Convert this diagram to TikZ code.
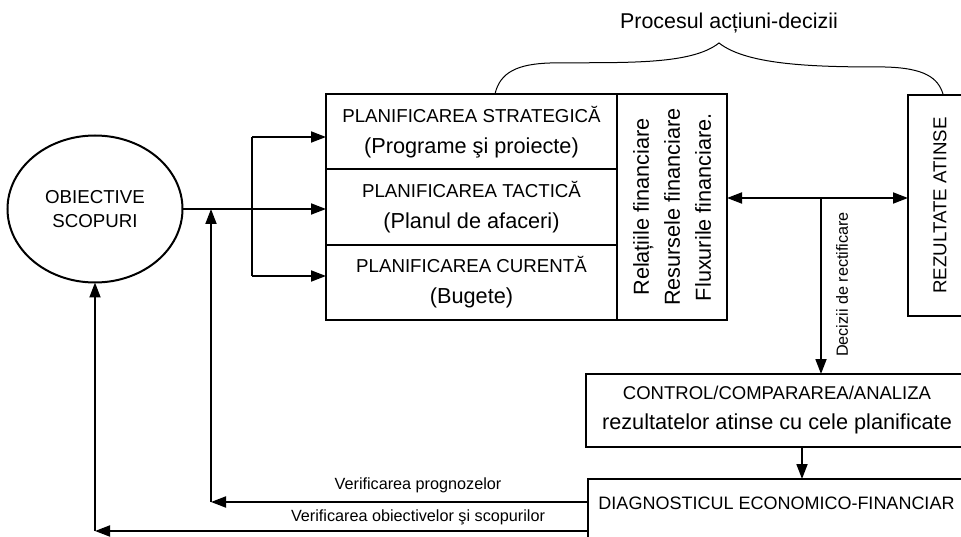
\documentclass[tikz,border=0pt]{standalone}
\usepackage{fontspec}
\setmainfont{Liberation Sans}
\usetikzlibrary{arrows.meta,shapes.geometric}
\begin{document}
\begin{tikzpicture}[x=1pt,y=-1pt,
  box/.style={draw, line width=2pt, rectangle, inner sep=0pt, outer sep=0pt},
  conn/.style={line width=1.8pt},
  arr/.style={conn, -{Triangle[length=15pt,width=11pt]}},
  arrs/.style={conn, {Triangle[length=15pt,width=11pt]}-{Triangle[length=15pt,width=11pt]}},
  caps/.style={font=\fontsize{18.7}{24}\selectfont},
  plan/.style={box, minimum width=291pt, minimum height=75.5pt, align=center, font=\fontsize{21.7}{31}\selectfont},
  small/.style={font=\fontsize{16.2}{20}\selectfont},
  bracestyle/.style={line width=1pt},
]
\clip (0,0) rectangle (961,537);
\fill[white] (0,0) rectangle (961,537);

% nodes
\node[box, ellipse, minimum width=175pt, minimum height=147pt, align=center, caps] (obj) at (95,209) {OBIECTIVE\\SCOPURI};
\node[plan] (strat) at (471.5,131.75) {{\fontsize{18.7}{31}\selectfont PLANIFICAREA STRATEGICĂ}\\(Programe şi proiecte)};
\node[plan] (tact) at (471.5,207.25) {{\fontsize{18.7}{31}\selectfont PLANIFICAREA TACTICĂ}\\(Planul de afaceri)};
\node[plan] (cur) at (471.5,282.5) {{\fontsize{18.7}{31}\selectfont PLANIFICAREA CURENTĂ}\\(Bugete)};
\node[box, rotate=90, minimum width=226pt, minimum height=110pt, align=center, font=\fontsize{21.7}{31}\selectfont] (fin) at (672,207) {Relațiile financiare\\Resursele financiare\\Fluxurile financiare.};
\node[box, rotate=90, minimum width=221pt, minimum height=64pt, caps] (rez) at (940,205.5) {REZULTATE ATINSE};
\node[box, minimum width=382pt, minimum height=73pt, align=center, font=\fontsize{21.7}{30}\selectfont] (ctrl) at (777,410.5) {{\fontsize{18.5}{30}\selectfont CONTROL/COMPARAREA/ANALIZA}\\rezultatelor atinse cu cele planificate};
\node[box, anchor=north west, minimum width=377pt, inner ysep=17.5pt, text height=12.9pt, text depth=45pt, font=\fontsize{18}{22}\selectfont] (diag) at (588,479) {DIAGNOSTICUL ECONOMICO-FINANCIAR};

\node[font=\fontsize{21.4}{26}\selectfont] (proc) at (729,23) {Procesul acțiuni-decizii};
\node[small] (vprog) at (418,485) {Verificarea prognozelor};
\node[small] (vobj) at (418,517) {Verificarea obiectivelor şi scopurilor};
\node[small, rotate=90] (dec) at (842,284.5) {Decizii de rectificare};

% brace
\draw[bracestyle] (495,94) .. controls (500,72) and (518,64) .. (550,63)
  .. controls (620,62) and (690,66) .. (719,43)
  .. controls (748,66) and (820,67) .. (885,67)
  .. controls (925,68) and (938,78) .. (943,94);

% connectors from objectives to planning
\draw[arr] (obj.east) -- (obj.east -| tact.west);
\coordinate (bs) at (252,137);
\coordinate (bc) at (252,276);
\draw[conn] (bs) -- (bc);
\draw[arr] (bs) -- (bs -| strat.west);
\draw[arr] (bc) -- (bc -| cur.west);

% financial <-> results (rotated nodes: picture right = south, picture left = north)
\coordinate (dj) at (821,198);
\draw[arrs] (dj -| fin.south) -- (dj -| rez.north);
\draw[arr] (dj) -- (dj |- ctrl.north);

% control -> diagnostic
\coordinate (cd) at (802,450);
\draw[arr] (cd |- ctrl.south) -- (cd |- diag.north);

% feedback loops
\coordinate (vp) at (211,502);
\draw[arr] (vp -| diag.west) -- (vp);
\draw[arr] (vp) -- (vp |- obj.east);
\coordinate (vo) at (95,531);
\draw[arr] (vo -| diag.west) -- (vo);
\draw[arr] (vo) -- (obj.south);
\end{tikzpicture}
\end{document}
